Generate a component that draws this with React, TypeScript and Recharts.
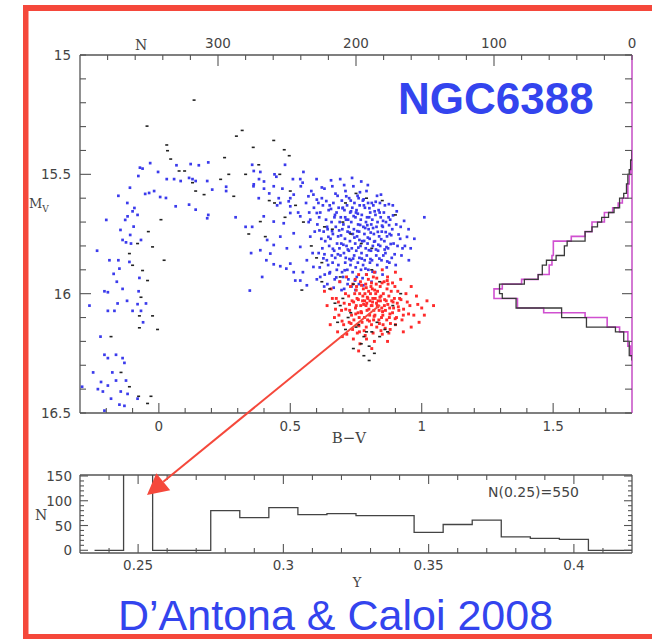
import React from 'react';
import { ScatterChart, Scatter, XAxis, YAxis } from 'recharts';

type Pt = [number, number];

// ---------- colour–magnitude diagram stars [B-V, M_V] ----------
const blueHB: Pt[] = [
  [-0.072,15.472],[-0.062,15.476],[-0.033,15.453],[-0.003,15.49],[0.03,15.52],[0.067,15.462],[0.121,15.457],[0.152,15.462],[0.188,15.45],
  [-0.154,15.59],[-0.11,15.556],[-0.078,15.507],[-0.052,15.582],[-0.037,15.578],[-0.018,15.57],[0.027,15.599],[0.058,15.52],[0.083,15.528],
  [0.115,15.515],[0.128,15.52],[0.14,15.528],[0.184,15.528],[0.203,15.564],[0.256,15.552],[0.256,15.57],[0.188,15.67],[0.184,15.684],
  [0.14,15.648],[0.115,15.627],[0.064,15.634],[0.005,15.595],[-0.093,15.641],[-0.1,15.655],[-0.119,15.676],[-0.128,15.691],[-0.146,15.733],
  [-0.138,15.775],[-0.125,15.785],[-0.109,15.754],[-0.106,15.79],[-0.096,15.719],[-0.081,15.67],[-0.068,15.775],[-0.2,15.691],[-0.154,15.86],
  [-0.188,15.86],[-0.172,15.917],[-0.15,15.895],[-0.207,15.99],[-0.194,15.994],[-0.138,15.98],[-0.077,15.99],[-0.074,15.934],[-0.112,15.867],
  [-0.121,16.03],[-0.1,16.072],[-0.081,16.044],[-0.049,16.041],[-0.068,16.072],[-0.157,16.041],[-0.169,16.072],[-0.194,16.072],[-0.264,16.05],
  [-0.222,16.18],[-0.207,16.256],[-0.194,16.27],[-0.163,16.256],[-0.138,16.27],[-0.131,16.29],[-0.22,16.37],[-0.232,16.4],[-0.213,16.41],
  [-0.194,16.385],[-0.163,16.364],[-0.125,16.364],[-0.119,16.42],[-0.081,16.44],[-0.15,16.465],[-0.182,16.44],[-0.207,16.49],[-0.131,16.47],
  [-0.292,16.39],[-0.25,16.33],[-0.177,16.33],[-0.145,16.41],[-0.06,16.12],[-0.16,15.95],[-0.235,15.82],[-0.12,15.62]
];
const blueMid: Pt[] = [
  [0.355,15.46],[0.361,15.486],[0.386,15.49],[0.381,15.52],[0.361,15.542],[0.4,15.56],[0.437,15.55],[0.447,15.51],[0.456,15.6],[0.462,15.62],
  [0.494,15.613],[0.5,15.634],[0.513,15.585],[0.538,15.52],[0.547,15.535],[0.569,15.592],[0.588,15.585],[0.601,15.606],[0.33,15.72],[0.355,15.72],
  [0.386,15.818],[0.393,15.93],[0.409,15.86],[0.424,15.832],[0.437,15.877],[0.462,15.885],[0.485,15.895],[0.513,15.91],[0.519,15.945],[0.548,15.91],
  [0.346,15.987],[0.351,15.83],[0.292,15.68],[0.399,15.676],[0.437,15.698],[0.475,15.705],[0.5,15.662],[0.538,15.676],[0.576,15.69],[0.601,15.662],
  [0.412,15.775],[0.462,15.761],[0.487,15.81],[0.538,15.804],[0.576,15.761],[0.513,15.747],[0.437,15.796],[0.5,15.874],[0.563,15.86],[0.588,15.888],
  [0.538,15.945],[0.614,15.93],[0.563,15.965]
];
const blueUpper: Pt[] = [
  [0.36,15.55],[0.38,15.6],[0.4,15.53],[0.42,15.58],[0.44,15.5],[0.45,15.63],[0.47,15.56],[0.48,15.46],[0.5,15.6],[0.51,15.52],[0.53,15.66],
  [0.54,15.55],[0.55,15.49],[0.56,15.62],[0.57,15.7],[0.58,15.57],[0.59,15.64],[0.6,15.52],[0.61,15.68],[0.62,15.6],[0.63,15.56],[0.64,15.72],
  [0.65,15.63],[0.66,15.55],[0.67,15.67],[0.68,15.59],[0.69,15.52],[0.7,15.64],[0.71,15.57],[0.72,15.69],[0.73,15.61],[0.74,15.55],[0.75,15.66],
  [0.76,15.6],[0.77,15.53],[0.78,15.63],[0.79,15.57],[0.8,15.68],[0.81,15.62],[0.83,15.59],[0.84,15.66],[0.86,15.63],[0.88,15.69],[0.89,15.63],
  [0.92,15.72],[0.95,15.73],[1.01,15.68]
];
const blueCore: Pt[] = [
  [0.603,15.71],[0.608,15.83],[0.601,15.94],[0.614,15.66],[0.618,15.77],[0.612,15.89],[0.627,15.74],[0.622,15.81],[0.629,15.97],[0.624,15.63],
  [0.636,15.69],[0.633,15.78],[0.639,15.86],[0.631,15.92],[0.646,15.65],[0.642,15.73],[0.648,15.8],[0.644,15.88],[0.641,15.96],[0.657,15.7],
  [0.653,15.77],[0.658,15.84],[0.651,15.91],[0.664,15.62],[0.668,15.68],[0.662,15.75],[0.667,15.82],[0.661,15.87],[0.669,15.94],[0.676,15.66],
  [0.673,15.72],[0.678,15.79],[0.671,15.85],[0.677,15.9],[0.684,15.64],[0.688,15.7],[0.682,15.76],[0.687,15.81],[0.683,15.88],[0.689,15.95],
  [0.696,15.61],[0.692,15.68],[0.698,15.73],[0.694,15.79],[0.691,15.84],[0.697,15.91],[0.706,15.65],[0.702,15.71],[0.708,15.77],[0.704,15.83],
  [0.709,15.87],[0.701,15.93],[0.705,15.98],[0.716,15.63],[0.712,15.69],[0.718,15.74],[0.714,15.8],[0.711,15.85],[0.717,15.9],[0.724,15.6],
  [0.728,15.66],[0.722,15.72],[0.727,15.78],[0.723,15.82],[0.729,15.88],[0.721,15.94],[0.736,15.64],[0.732,15.7],[0.738,15.75],[0.734,15.81],
  [0.731,15.86],[0.737,15.91],[0.733,15.97],[0.744,15.62],[0.748,15.68],[0.742,15.73],[0.747,15.79],[0.743,15.84],[0.749,15.89],[0.756,15.59],
  [0.752,15.65],[0.758,15.71],[0.754,15.76],[0.751,15.82],[0.757,15.87],[0.753,15.93],[0.764,15.63],[0.768,15.69],[0.762,15.74],[0.767,15.8],
  [0.763,15.85],[0.769,15.9],[0.761,15.96],[0.776,15.61],[0.772,15.67],[0.778,15.72],[0.774,15.78],[0.771,15.83],[0.777,15.88],[0.784,15.64],
  [0.788,15.7],[0.782,15.75],[0.787,15.81],[0.783,15.86],[0.789,15.92],[0.796,15.62],[0.792,15.68],[0.798,15.73],[0.794,15.79],[0.791,15.84],
  [0.797,15.9],[0.804,15.66],[0.808,15.71],[0.802,15.77],[0.807,15.82],[0.803,15.87],[0.809,15.95],[0.816,15.63],[0.812,15.69],[0.818,15.75],
  [0.814,15.8],[0.811,15.86],[0.824,15.67],[0.828,15.72],[0.822,15.78],[0.827,15.84],[0.823,15.91],[0.836,15.65],[0.832,15.7],[0.838,15.76],
  [0.834,15.82],[0.831,15.88],[0.844,15.68],[0.848,15.74],[0.842,15.8],[0.847,15.86],[0.856,15.66],[0.852,15.72],[0.858,15.78],[0.854,15.84],
  [0.851,15.92],[0.864,15.7],[0.868,15.76],[0.862,15.83],[0.867,15.89],[0.874,15.68],[0.878,15.75],[0.872,15.81],[0.877,15.87],[0.888,15.73],
  [0.893,15.79],[0.886,15.85],[0.903,15.71],[0.908,15.8],[0.901,15.88],[0.918,15.77],[0.923,15.84],[0.936,15.8],[0.951,15.86]
];
const blueExtra: Pt[] = [
  [0.611,15.735],[0.626,15.852],[0.637,15.612],[0.649,15.915],[0.659,15.738],[0.672,15.581],[0.681,15.835],[0.693,15.756],[0.699,15.642],
  [0.707,15.902],[0.713,15.592],[0.719,15.815],[0.726,15.744],[0.739,15.853],[0.741,15.675],[0.746,15.945],[0.755,15.738],[0.759,15.807],
  [0.766,15.712],[0.772,15.853],[0.779,15.605],[0.781,15.779],[0.786,15.895],[0.793,15.713],[0.799,15.818],[0.801,15.642],[0.806,15.744],
  [0.813,15.908],[0.819,15.782],[0.821,15.655],[0.826,15.815],[0.833,15.741],[0.839,15.853],[0.841,15.62],[0.846,15.772],[0.853,15.695],
  [0.859,15.815],[0.863,15.742],[0.869,15.865],[0.876,15.713],[0.882,15.792],[0.891,15.672],[0.897,15.835],[0.912,15.752],[0.927,15.81],
  [0.944,15.762],[0.958,15.81],[0.972,15.77],[0.63,15.835],[0.645,15.762],[0.655,15.645],[0.662,15.812],[0.675,15.932],[0.686,15.735],
  [0.702,15.795],[0.709,15.68],[0.725,15.855],[0.731,15.655],[0.744,15.765],[0.757,15.665],[0.763,15.775],[0.775,15.935],[0.785,15.725],
  [0.795,15.765],[0.805,15.855],[0.815,15.725],[0.835,15.795],[0.849,15.715],[0.866,15.805],[0.884,15.755],[0.607,15.62],[0.593,15.74],
  [0.585,15.83],[0.572,15.66],[0.62,15.555],[0.655,15.525],[0.705,15.545],[0.735,15.515],[0.765,15.575],[0.795,15.545],[0.825,15.615],
  [0.845,15.585],[0.875,15.625],[0.905,15.655],[0.933,15.695],[0.718,15.96],[0.748,15.985],[0.778,15.965],[0.695,15.985],[0.665,15.975]
];
const redStars: Pt[] = [
  [0.722,16.01],[0.726,16.07],[0.729,15.97],[0.724,16.12],[0.735,16.03],[0.738,15.96],[0.733,16.09],[0.737,16.15],[0.745,16.0],[0.748,16.06],
  [0.742,16.11],[0.747,15.94],[0.754,16.02],[0.758,16.08],[0.752,15.97],[0.757,16.13],[0.751,16.05],[0.764,16.0],[0.768,16.05],[0.762,16.1],
  [0.767,15.95],[0.763,16.16],[0.775,16.03],[0.771,16.08],[0.778,15.98],[0.773,16.12],[0.776,16.01],[0.784,16.0],[0.788,16.05],[0.782,16.1],
  [0.787,15.96],[0.783,16.03],[0.789,16.14],[0.795,16.02],[0.792,16.07],[0.798,15.99],[0.794,16.11],[0.791,16.04],[0.797,15.94],[0.805,16.0],
  [0.808,16.05],[0.802,16.09],[0.807,15.97],[0.803,16.03],[0.809,16.13],[0.814,16.02],[0.818,16.07],[0.812,15.98],[0.817,16.11],[0.811,16.05],
  [0.816,15.93],[0.825,16.0],[0.828,16.04],[0.822,16.09],[0.827,15.96],[0.823,16.02],[0.829,16.14],[0.834,16.03],[0.838,16.07],[0.832,15.99],
  [0.837,16.11],[0.831,16.05],[0.845,16.01],[0.848,16.06],[0.842,15.97],[0.847,16.1],[0.843,16.03],[0.854,16.0],[0.858,16.05],[0.852,16.09],
  [0.857,15.95],[0.853,16.13],[0.865,16.03],[0.868,15.98],[0.862,16.07],[0.867,16.11],[0.875,16.01],[0.878,16.06],[0.872,15.96],[0.877,16.1],
  [0.886,16.03],[0.884,15.99],[0.889,16.08],[0.896,16.02],[0.893,16.06],[0.898,15.97],[0.907,16.04],[0.904,16.1],[0.909,15.99],[0.916,16.02],
  [0.913,16.07],[0.64,16.05],[0.655,15.98],[0.668,16.1],[0.675,16.02],[0.688,15.95],[0.695,16.07],[0.703,16.13],[0.71,16.0],[0.714,15.93],
  [0.698,16.18],[0.652,16.13],[0.68,16.16],[0.715,16.17],[0.74,16.19],[0.765,16.21],[0.79,16.19],[0.82,16.2],[0.85,16.17],[0.88,16.15],
  [0.9,16.13],[0.93,16.09],[0.94,16.0],[0.955,16.05],[0.97,16.09],[0.98,16.01],[1.0,16.06],[1.02,16.03],[1.045,16.05],[0.96,16.14],
  [0.93,16.16],[0.92,15.94],[0.9,15.91],[0.87,15.93],[0.85,15.9],[0.82,15.91],[0.79,15.92],[0.76,15.92],[0.96,15.97],[0.99,16.12],
  [0.925,16.11],[0.705,16.04],[0.685,16.09],[0.66,16.02],[0.81,16.23],[0.76,16.24],[0.87,16.2],[0.63,15.99],
  [0.741,16.035],[0.749,16.085],[0.759,16.025],[0.761,16.135],[0.769,16.075],[0.779,16.045],[0.781,16.155],[0.793,16.015],[0.799,16.065],
  [0.801,16.115],[0.813,16.035],[0.819,16.095],[0.821,15.985],[0.833,16.055],[0.839,16.125],[0.841,16.015],[0.851,16.075],[0.859,16.025],
  [0.861,16.145],[0.871,16.045],[0.879,16.085],[0.881,16.125],[0.891,16.035],[0.899,16.105],[0.911,16.055],[0.921,16.025],[0.931,16.065],
  [0.945,16.035],[0.725,16.045],[0.731,16.125],[0.711,16.065],[0.751,15.985],[0.771,15.965],[0.789,15.975],[0.809,15.955],[0.829,15.935],
  [0.849,15.955],[0.869,15.945],[0.889,15.955],[0.755,16.165],[0.785,16.175],[0.815,16.165],[0.845,16.155],[0.875,16.165],[0.697,16.115],
  [0.683,16.035],[0.672,16.065],[0.95,16.085],[0.985,16.045],[1.01,16.09]
];
const blackStars: Pt[] = [
  [0.134,15.189],[-0.045,15.298],[0.03,15.377],[0.033,15.401],[0.045,15.436],[0.077,15.486],[0.098,15.486],[0.128,15.535],[0.14,15.57],
  [0.172,15.585],[0.235,15.521],[0.266,15.5],[0.285,15.592],[0.295,15.34],[0.317,15.316],[0.359,15.387],[0.477,15.397],[0.496,15.422],
  [0.437,15.358],[0.342,15.75],[0.386,15.698],[0.405,15.761],[0.544,15.985],[0.008,15.69],[-0.04,15.74],[-0.024,15.804],[0.02,15.86],
  [-0.062,15.903],[-0.1,15.881],[-0.043,15.945],[-0.068,16.015],[-0.074,16.093],[-0.024,16.093],[-0.005,16.15],[-0.074,16.143],[-0.112,15.832],
  [-0.081,15.79],[-0.077,16.43],[-0.112,16.39],[-0.144,16.33],[-0.182,16.18],[-0.043,16.46],[-0.03,16.43],
  [0.62,15.95],[0.65,15.98],[0.67,16.04],[0.7,16.02],[0.73,16.08],[0.76,16.13],[0.79,16.16],[0.83,16.12],[0.86,16.15],[0.89,16.05],
  [0.92,16.0],[0.78,16.26],[0.8,16.28],[0.74,16.23],[0.71,16.15],[0.68,16.12],[0.69,15.93],[0.74,15.96],[0.81,15.9],[0.84,15.95],
  [0.6,15.85],[0.63,15.72],[0.71,15.62],[0.75,15.58],[0.79,15.6],[0.85,15.61],[0.9,15.67],[0.55,15.7],[0.5,15.57],[0.46,15.5],
  [0.44,15.62],[0.58,15.8],[0.62,15.87],[0.72,16.1],[0.75,16.14],[0.78,16.18],[0.81,16.16],[0.84,16.18],[0.87,16.16],[0.8,16.22],
  [0.77,16.21],[0.82,16.25],[0.9,16.13],[0.69,16.05],[0.73,15.75],[0.77,15.79],[0.81,15.81],[0.7,15.7],[0.66,15.73],[0.48,15.68],
  [0.52,15.63],[0.42,15.61],[0.38,15.46],[0.33,15.5],[0.25,15.43]
];

// ---------- luminosity functions (right side), bins in M_V ----------
const mvEdges = [15.40,15.42,15.44,15.46,15.48,15.50,15.52,15.54,15.56,15.58,15.60,15.62,15.64,15.66,15.68,15.70,15.72,15.74,15.76,15.78,
  15.80,15.82,15.84,15.86,15.88,15.90,15.92,15.94,15.96,15.98,16.00,16.02,16.04,16.06,16.08,16.10,16.12,16.14,16.16,16.18,16.20,16.22,16.24,16.26,16.28];
const lfObserved = [0,0,1,1,2,3,3,4,4,6,9,9,13,17,22,25,29,34,34,47,49,49,55,62,65,65,68,78,96,96,94,84,84,51,51,33,33,12,6,6,2,2,2,0];
const lfModel = [0,0,0,0,1,2,2,3,3,3,7,10,14,20,20,29,29,34,44,57,57,57,58,58,60,60,68,80,94,100,100,83,83,64,34,18,18,9,3,3,3,1,1,0];

// ---------- helium distribution (lower panel) ----------
const yEdges = [0.235,0.245,0.255,0.265,0.275,0.285,0.295,0.305,0.315,0.325,0.335,0.345,0.355,0.365,0.375,0.385,0.395,0.405,0.42];
const yCounts = [0,550,0,0,80,66,86,72,74,70,70,36,52,61,27,24,22,0];

// ---------- ticks ----------
const bvTicks = [-0.2,-0.1,0,0.1,0.2,0.3,0.4,0.5,0.6,0.7,0.8,0.9,1,1.1,1.2,1.3,1.4,1.5,1.6,1.7];
const bvLabels = [0,0.5,1,1.5];
const nTopTicks = [0,20,40,60,80,100,120,140,160,180,200,220,240,260,280,300,320,340,360,380];
const nTopLabels = [0,100,200,300];
const mvTicks = [15,15.1,15.2,15.3,15.4,15.5,15.6,15.7,15.8,15.9,16,16.1,16.2,16.3,16.4,16.5];
const mvLabels = [15,15.5,16,16.5];
const yTicks = [0.24,0.25,0.26,0.27,0.28,0.29,0.3,0.31,0.32,0.33,0.34,0.35,0.36,0.37,0.38,0.39,0.4,0.41];
const yLabels = [0.25,0.3,0.35,0.4];
const cntTicks = [0,10,20,30,40,50,60,70,80,90,100,110,120,130,140,150];
const cntLabels = [0,50,100,150];

const toStars = (pts: Pt[]) => pts.map(([bv, mv]) => ({ bv, mv }));
const lfSteps = (edges: number[], counts: number[]) => {
  const out: { n: number; mv: number }[] = [{ n: 0, mv: edges[0] }];
  counts.forEach((c, i) => { out.push({ n: c, mv: edges[i] }); out.push({ n: c, mv: edges[i + 1] }); });
  out.push({ n: 0, mv: edges[edges.length - 1] });
  return out;
};
const yhSteps = (edges: number[], counts: number[]) => {
  const out: { y: number; c: number }[] = [];
  counts.forEach((c, i) => { out.push({ y: edges[i], c }); out.push({ y: edges[i + 1], c }); });
  return out;
};

const AX = '#555';
const TF = { fontFamily: 'DejaVu Sans', fontSize: 13.5, fill: '#444' };
const near = (arr: number[], v: number) => arr.some((a) => Math.abs(a - v) < 1e-6);

type Side = 'bottom' | 'top' | 'left' | 'right';
const makeTick = (side: Side, majors: number[], labels: number[], minor: number, major: number, gap: number) =>
  (props: any) => {
    const { x, y, payload } = props;
    const v = payload.value;
    const len = near(majors, v) ? major : minor;
    const lab = near(labels, v) ? String(v) : null;
    if (side === 'bottom')
      return (<g><line x1={x} y1={y} x2={x} y2={y - len} stroke={AX} strokeWidth={1.1} />
        {lab && <text x={x} y={y + gap} textAnchor="middle" {...TF}>{lab}</text>}</g>);
    if (side === 'top')
      return (<g><line x1={x} y1={y} x2={x} y2={y + len} stroke={AX} strokeWidth={1.1} />
        {lab && <text x={x} y={y - gap} textAnchor="middle" {...TF}>{lab}</text>}</g>);
    if (side === 'left')
      return (<g><line x1={x} y1={y} x2={x + len} y2={y} stroke={AX} strokeWidth={1.1} />
        {lab && <text x={x - gap} y={y + 5} textAnchor="end" {...TF}>{lab}</text>}</g>);
    return (<g><line x1={x} y1={y} x2={x - len} y2={y} stroke={AX} strokeWidth={1.1} /></g>);
  };

const dot = (color: string, w: number, h: number) => (p: any) =>
  <rect x={p.cx - w / 2} y={p.cy - h / 2} width={w} height={h} fill={color} />;
const noDot = () => <g />;

const axisLine = { stroke: AX, strokeWidth: 1.3 };

export default function App() {
  const blue = toStars([...blueHB, ...blueMid, ...blueUpper, ...blueCore, ...blueExtra]);
  const red = toStars(redStars);
  const black = toStars(blackStars);
  const lfA = lfSteps(mvEdges, lfObserved);
  const lfB = lfSteps(mvEdges, lfModel);
  const yh = yhSteps(yEdges, yCounts);
  const red0 = '#f5483b';
  const blueTxt = '#3344ee';

  // arrow geometry (annotation)
  const ax1 = 380, ay1 = 305, ax2 = 147, ay2 = 495;
  const L = Math.hypot(ax2 - ax1, ay2 - ay1);
  const ux = (ax2 - ax1) / L, uy = (ay2 - ay1) / L;
  const hl = 21, hw = 11;
  const bx = ax2 - ux * hl, by = ay2 - uy * hl;
  const head = `${ax2},${ay2} ${bx - uy * hw},${by + ux * hw} ${bx + uy * hw},${by - ux * hw}`;

  return (
    <div style={{ position: 'absolute', left: 0, top: 0, width: 652, height: 639, background: '#fff', overflow: 'hidden' }}>
      <div style={{ position: 'absolute', left: 0, top: 0 }}>
        <ScatterChart width={652} height={455} margin={{ top: 0, right: 0, bottom: 0, left: 0 }}>
          <XAxis xAxisId="bv" type="number" dataKey="bv" domain={[-0.3, 1.8]} ticks={bvTicks} interval={0}
            tickSize={0} tickMargin={0} tickLine={false} height={42} axisLine={axisLine}
            tick={makeTick('bottom', bvLabels, bvLabels, 5, 10, 18)} allowDataOverflow />
          <XAxis xAxisId="n" orientation="top" type="number" dataKey="n" domain={[0, 400]} reversed ticks={nTopTicks} interval={0}
            tickSize={0} tickMargin={0} tickLine={false} height={55} axisLine={axisLine}
            tick={makeTick('top', [100, 200, 300], nTopLabels, 5, 11, 7.5)} allowDataOverflow />
          <YAxis yAxisId="mv" type="number" dataKey="mv" domain={[15, 16.5]} reversed ticks={mvTicks} interval={0}
            tickSize={0} tickMargin={0} tickLine={false} width={80} axisLine={axisLine}
            tick={makeTick('left', [15.5, 16], mvLabels, 6, 11, 9)} allowDataOverflow />
          <YAxis yAxisId="mvR" orientation="right" type="number" dataKey="mv" domain={[15, 16.5]} reversed ticks={mvTicks} interval={0}
            tickSize={0} tickMargin={0} tickLine={false} width={20} axisLine={{ stroke: '#c040c0', strokeWidth: 1.4 }}
            tick={makeTick('right', [15.5, 16], [], 7, 10, 0)} allowDataOverflow />
          <Scatter xAxisId="bv" yAxisId="mv" data={blue} shape={dot('#3b3bec', 2.7, 2.7)} isAnimationActive={false} />
          <Scatter xAxisId="bv" yAxisId="mv" data={red} shape={dot('#ff2b2b', 2.9, 2.9)} isAnimationActive={false} />
          <Scatter xAxisId="bv" yAxisId="mv" data={black} shape={dot('#222', 3, 1.6)} isAnimationActive={false} />
          <Scatter xAxisId="n" yAxisId="mvR" data={lfB} shape={noDot} line={{ stroke: '#d050d0', strokeWidth: 1.6 }} isAnimationActive={false} />
          <Scatter xAxisId="n" yAxisId="mvR" data={lfA} shape={noDot} line={{ stroke: '#3a3a3a', strokeWidth: 1.3 }} isAnimationActive={false} />
        </ScatterChart>
      </div>

      <div style={{ position: 'absolute', left: 0, top: 455 }}>
        <ScatterChart width={652} height={140} margin={{ top: 0, right: 0, bottom: 0, left: 0 }}>
          <XAxis xAxisId="y" type="number" dataKey="y" domain={[0.23, 0.42]} ticks={yTicks} interval={0}
            tickSize={0} tickMargin={0} tickLine={false} height={42} axisLine={axisLine}
            tick={makeTick('bottom', yLabels, yLabels, 5, 9, 17)} allowDataOverflow />
          <XAxis xAxisId="yTop" orientation="top" type="number" dataKey="y" domain={[0.23, 0.42]} ticks={yTicks} interval={0}
            tickSize={0} tickMargin={0} tickLine={false} height={20} axisLine={axisLine}
            tick={makeTick('top', yLabels, [], 5, 9, 0)} allowDataOverflow />
          <YAxis yAxisId="c" type="number" dataKey="c" domain={[-5.5, 152]} ticks={cntTicks} interval={0}
            tickSize={0} tickMargin={0} tickLine={false} width={80} axisLine={axisLine}
            tick={makeTick('left', cntLabels, cntLabels, 4, 8, 8)} allowDataOverflow />
          <YAxis yAxisId="cR" orientation="right" type="number" dataKey="c" domain={[-5.5, 152]} ticks={cntTicks} interval={0}
            tickSize={0} tickMargin={0} tickLine={false} width={20} axisLine={axisLine}
            tick={makeTick('right', cntLabels, [], 4, 8, 0)} allowDataOverflow />
          <Scatter xAxisId="y" yAxisId="c" data={yh} shape={noDot} line={{ stroke: '#444', strokeWidth: 1.3 }} isAnimationActive={false} />
          <Scatter xAxisId="yTop" yAxisId="cR" data={[]} shape={noDot} isAnimationActive={false} />
        </ScatterChart>
      </div>

      <svg width={652} height={639} style={{ position: 'absolute', left: 0, top: 0, pointerEvents: 'none' }}>
        <rect x={23} y={5} width={629} height={6} fill={red0} />
        <rect x={23} y={5} width={5.5} height={634} fill={red0} />
        <rect x={23} y={634} width={629} height={5} fill={red0} />
        <text x={398} y={114} fontFamily="Liberation Sans" fontWeight="bold" fontSize={44} fill={blueTxt}>NGC6388</text>
        <text x={118} y={630} fontFamily="Liberation Sans" fontSize={43} fill={blueTxt}>D’Antona &amp; Caloi 2008</text>
        <text x={141} y={50} textAnchor="middle" fontFamily="DejaVu Serif" fontSize={14} fill="#444">N</text>
        <text x={29} y={208} fontFamily="DejaVu Serif" fontSize={13} fill="#444">M<tspan fontSize={9} dy={4}>V</tspan></text>
        <text x={349} y={443} textAnchor="middle" fontFamily="DejaVu Serif" fontSize={15} fill="#444">B−V</text>
        <text x={41} y={520} textAnchor="middle" fontFamily="DejaVu Serif" fontSize={14} fill="#444">N</text>
        <text x={357} y={587} textAnchor="middle" fontFamily="DejaVu Serif" fontSize={13} fill="#444">Y</text>
        <text x={488} y={497} fontFamily="DejaVu Sans" fontSize={14} fill="#444">N(0.25)=550</text>
        <line x1={ax1} y1={ay1} x2={bx} y2={by} stroke={red0} strokeWidth={2} />
        <polygon points={head} fill={red0} />
      </svg>
    </div>
  );
}
